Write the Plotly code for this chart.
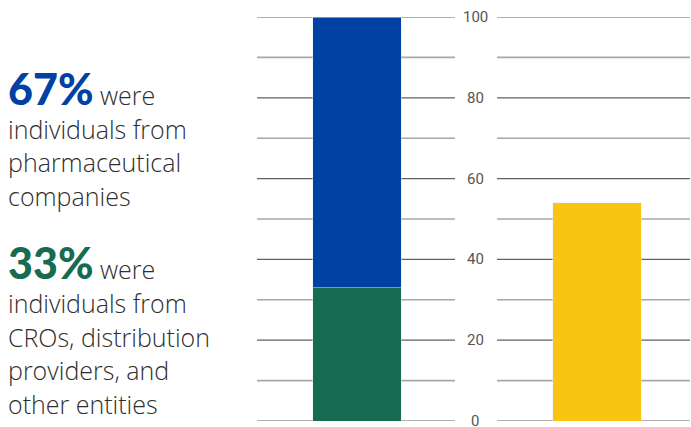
import plotly.graph_objects as go

# ---- data ----
green_vals = [33]
blue_vals = [67]
yellow_vals = [54]
bar_x_left = [0]
bar_x_right = [1]
tick_vals = [0, 20, 40, 60, 80, 100]
grid_vals = [0, 10, 20, 30, 40, 50, 60, 70, 80, 90, 100]

block1_pct = "67%"
block1_lines = ["individuals from", "pharmaceutical", "companies"]
block2_pct = "33%"
block2_lines = ["individuals from", "CROs, distribution", "providers, and", "other entities"]

BLUE = "#0041a3"
GREEN = "#176b50"
YELLOW = "#f9c512"
TEXT = "#2e2e2e"

W, H = 691, 427
PL, PR = 257, 690      # plot area pixels (x)
PT, PB = 17, 421       # plot area pixels (y)

def px_x(p):
    return (p - PL) / (PR - PL)

def px_y(p):
    return (PB - p) / (PB - PT)

fig = go.Figure()
fig.add_trace(go.Bar(x=bar_x_left, y=green_vals, marker_color=GREEN, width=0.367, hoverinfo="skip"))
fig.add_trace(go.Bar(x=bar_x_left, y=blue_vals, marker_color=BLUE, width=0.367, hoverinfo="skip"))
fig.add_trace(go.Bar(x=bar_x_right, y=yellow_vals, marker_color=YELLOW, width=0.367, hoverinfo="skip"))

shapes = []
for v in grid_vals:
    major = v % 20 == 0
    col = "#606060" if major else "#a8a8a8"
    lw = 1.2 if major else 1.6
    for x0, x1 in [(0, px_x(455)), (px_x(497), 1)]:
        shapes.append(dict(type="line", xref="paper", yref="y", x0=x0, x1=x1, y0=v, y1=v,
                           line=dict(color=col, width=lw), layer="below"))

annotations = []
for v in tick_vals:
    annotations.append(dict(xref="paper", yref="y", x=px_x(475), y=v, text=str(v), showarrow=False,
                            xanchor="center", yanchor="middle",
                            font=dict(family="Roboto", size=15, color="#555555")))

BODY_FONT = "Open Sans"
BODY_SIZE = 25

def add_block(pct, color, lines, y_first, y_body, step):
    annotations.append(dict(xref="paper", yref="paper", x=px_x(6), y=px_y(y_first), showarrow=False,
                            xanchor="left", yanchor="middle",
                            text=f"<span style='font-family:Lato;font-size:43px;font-weight:900;color:{color}'>{pct}</span>"
                                 f"<span style='font-size:{BODY_SIZE}px;color:{TEXT}'> were</span>",
                            font=dict(family=BODY_FONT, size=BODY_SIZE, color=TEXT, weight=300)))
    for i, ln in enumerate(lines):
        annotations.append(dict(xref="paper", yref="paper", x=px_x(6), y=px_y(y_body + step * i),
                                showarrow=False, xanchor="left", yanchor="middle", text=ln,
                                font=dict(family=BODY_FONT, size=BODY_SIZE, color=TEXT, weight=300)))

add_block(block1_pct, BLUE, block1_lines, 88, 129, 33.3)
add_block(block2_pct, GREEN, block2_lines, 262, 303, 33.7)

fig.update_layout(
    width=W, height=H,
    margin=dict(l=PL, r=W - PR, t=PT, b=H - PB),
    barmode="stack",
    showlegend=False,
    plot_bgcolor="white", paper_bgcolor="white",
    xaxis=dict(range=[-0.4167, 1.3875], visible=False, fixedrange=True),
    yaxis=dict(range=[0, 100], visible=False, fixedrange=True),
    shapes=shapes,
    annotations=annotations,
)

fig.write_html("out.html", config={"displayModeBar": False})
